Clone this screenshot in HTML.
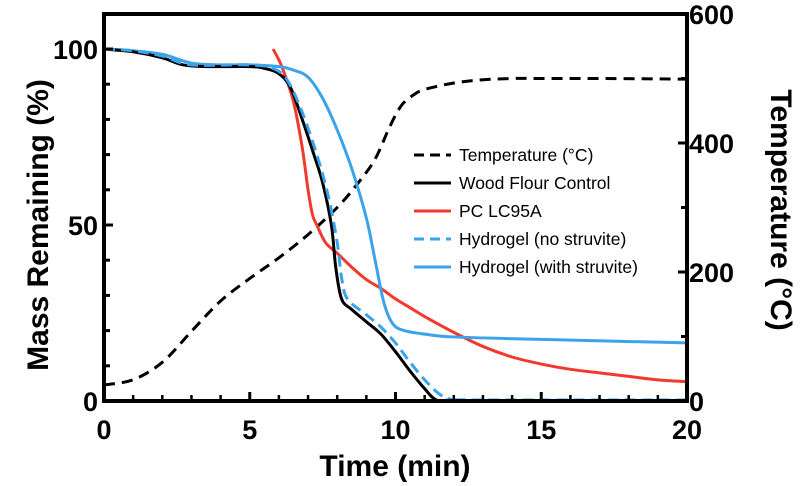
<!DOCTYPE html>
<html><head><meta charset="utf-8"><style>
body{margin:0;background:#fff;}
svg{display:block;font-family:"Liberation Sans",Arial,sans-serif;}
</style></head><body>
<svg id="chart" width="800" height="486" viewBox="0 0 800 486"></svg>
<script>
const timeTicks=[0,5,10,15,20];
const massTicks=[0,50,100];
const tempTicks=[0,200,400,600];
const tempSeries=[[0,25],[1,33],[2,60],[3,108],[4,155],[5,190],[6,222],[7,258],[8,300],[8.7,337],[9.3,375],[9.8,425],[10.2,458],[10.6,474],[11,483],[12,493],[13,498],[14,500],[15,500],[17,500],[20,499]];
const woodSeries=[[0,100],[1,99.2],[2,97.5],[2.7,95.5],[3.5,95],[5,95],[5.5,94.5],[6,93],[6.4,89],[6.8,80],[7.2,70],[7.5,62],[7.8,50],[7.95,38],[8.15,29],[8.5,26],[9,22.5],[9.5,19],[10,14],[10.5,8.5],[11,3.5],[11.4,0.3],[12,0],[20,0]];
const pcSeries=[[5.8,100],[6.1,95],[6.5,85],[6.8,72],[7,60],[7.15,53],[7.3,50],[7.6,45],[8,42],[8.5,38],[9,34.5],[9.5,32],[10,29],[10.5,26.5],[11,24],[12,19.5],[13,15.5],[14,12.5],[15,10.5],[16,9],[17,8],[18,7],[19,6],[20,5.5]];
const noStruviteSeries=[[0,100],[1,99.5],[2,98],[3,95.5],[5,95.5],[5.8,94.5],[6.3,91],[6.8,82],[7.3,70],[7.7,58],[8,45],[8.15,35],[8.35,29],[9,24.5],[9.5,21],[10,16.5],[10.5,11],[11,6],[11.5,2],[11.9,0.5],[12.5,0.3],[20,0.3]];
const withStruviteSeries=[[0,100],[1,99.5],[2,98.5],[3,96],[4,95.5],[5,95.5],[6,95],[6.5,94],[7,92],[7.5,86],[8,77],[8.5,66],[9,52],[9.3,40],[9.6,28],[9.9,22],[10.3,20],[11,19],[12,18.2],[15,17.5],[20,16.5]];

const L=104,R=687,B=401,T=14;
const xs=t=>L+t*(R-L)/20;
const ym=m=>B-m*3.52;
const yt=c=>B-c*(B-T)/600;
const svg=document.getElementById('chart');
const NS='http://www.w3.org/2000/svg';
function mk(tag,attrs,parent){const e=document.createElementNS(NS,tag);for(const k in attrs)e.setAttribute(k,attrs[k]);(parent||svg).appendChild(e);return e;}
function path(pts,fx,fy){
  const p=pts.map(d=>[fx(d[0]),fy(d[1])]);
  let s='M'+p[0][0]+','+p[0][1];
  for(let i=0;i<p.length-1;i++){
    const p0=p[i-1]||p[i],p1=p[i],p2=p[i+1],p3=p[i+2]||p2;
    const c1=[p1[0]+(p2[0]-p0[0])/6,p1[1]+(p2[1]-p0[1])/6];
    const c2=[p2[0]-(p3[0]-p1[0])/6,p2[1]-(p3[1]-p1[1])/6];
    s+=`C${c1[0]},${c1[1]} ${c2[0]},${c2[1]} ${p2[0]},${p2[1]}`;
  }
  return s;
}
let e;
e=mk('path',{d:path(tempSeries,xs,yt),fill:'none',stroke:'#000','stroke-width':3,'stroke-dasharray':'11,7'});


e=mk('path',{d:path(pcSeries,xs,ym),fill:'none',stroke:'#f03a2e','stroke-width':3});


e=mk('path',{d:path(withStruviteSeries,xs,ym),fill:'none',stroke:'#3ba3ea','stroke-width':3});


e=mk('path',{d:path(woodSeries,xs,ym),fill:'none',stroke:'#000','stroke-width':3});


e=mk('path',{d:path(noStruviteSeries,xs,ym),fill:'none',stroke:'#3ba3ea','stroke-width':3,'stroke-dasharray':'11,6'});


e=mk('rect',{x:L,y:T,width:R-L,height:B-T,fill:'none',stroke:'#000','stroke-width':4});


for(let t=0;t<=20;t++){
  const big=t%5===0;
  mk('line',{x1:xs(t),x2:xs(t),y1:B,y2:B-(big?9:6),stroke:'#000','stroke-width':big?3:2.5});
}
timeTicks.forEach(t=>{
  e=mk('text',{x:xs(t),y:B+38,'text-anchor':'middle','font-size':27,'font-weight':'bold'});e.textContent=t;
  
  
});
for(let m=0;m<=100;m+=10){
  const big=m%50===0;
  mk('line',{x1:L,x2:L+(big?9:6),y1:ym(m),y2:ym(m),stroke:'#000','stroke-width':3});
}
massTicks.forEach(m=>{
  e=mk('text',{x:L-6,y:ym(m)+10,'text-anchor':'end','font-size':27,'font-weight':'bold'});e.textContent=m;
  
  
});
for(let c=0;c<=600;c+=100){
  const big=c%200===0;
  mk('line',{x1:R,x2:R-(big?9:6),y1:yt(c),y2:yt(c),stroke:'#000','stroke-width':3});
}
tempTicks.forEach(c=>{
  e=mk('text',{x:R+2,y:yt(c)+10,'text-anchor':'start','font-size':27,'font-weight':'bold'});e.textContent=c;
  
  
});
e=mk('text',{x:395,y:476,'text-anchor':'middle','font-size':30,'font-weight':'bold'});e.textContent='Time (min)';


e=mk('text',{x:0,y:0,transform:'translate(48,225) rotate(-90)','text-anchor':'middle','font-size':30,'font-weight':'bold'});e.textContent='Mass Remaining (%)';


e=mk('text',{x:0,y:0,transform:'translate(771,210) rotate(90)','text-anchor':'middle','font-size':30,'font-weight':'bold'});e.textContent='Temperature (°C)';


const legNames=['Temperature (°C)','Wood Flour Control','PC LC95A','Hydrogel (no struvite)','Hydrogel (with struvite)'];
const legColors=['#000','#000','#f03a2e','#3ba3ea','#3ba3ea'];
const legDash=['10,6','none','none','10,6','none'];
legNames.forEach((n,i)=>{
  const y=155+i*28;
  const g=mk('g',{});
  
  
  mk('line',{x1:414,x2:451,y1:y,y2:y,stroke:legColors[i],'stroke-width':3,'stroke-dasharray':legDash[i]},g);
  const tx=mk('text',{x:459,y:y+6,'font-size':17.5},g);tx.textContent=n;
});
</script>
</body></html>
